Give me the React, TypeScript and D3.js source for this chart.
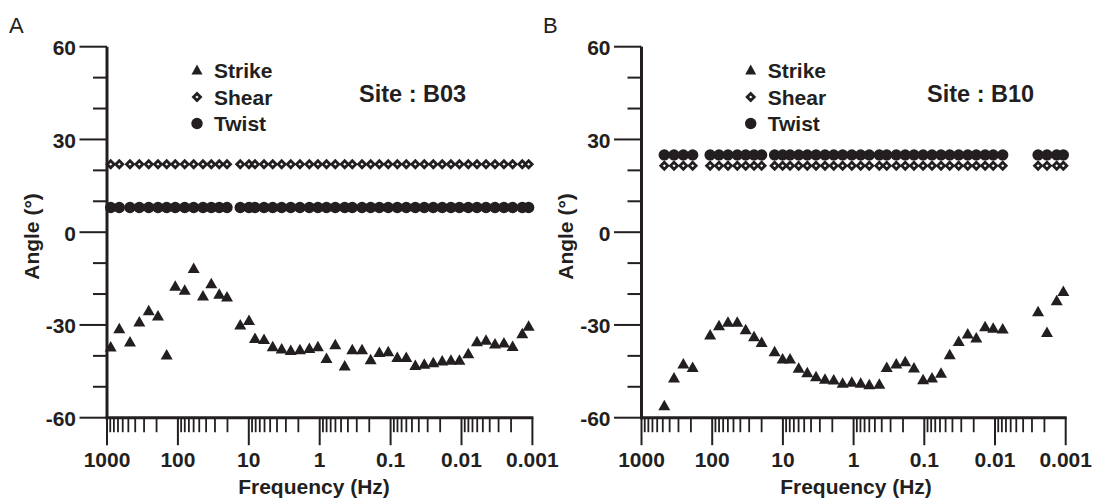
import React from "react";
import * as d3 from "d3";

// ---------- data ----------
const freqA = [887, 671, 474, 350, 258, 191, 144, 109, 80.2, 59.9, 44.3, 33.8, 26.1, 20.3, 13.2, 9.94, 8.18, 6.1, 4.6, 3.44, 2.56, 1.9, 1.4, 1.06, 0.802, 0.603, 0.444, 0.347, 0.253, 0.191, 0.144, 0.108, 0.0804, 0.0601, 0.0448, 0.0335, 0.025, 0.0187, 0.0141, 0.0107, 0.00802, 0.00605, 0.00451, 0.00337, 0.00252, 0.0019, 0.00139, 0.00113];
const strikeA = [-36.9, -31.0, -35.3, -28.8, -25.2, -26.9, -39.5, -17.2, -18.5, -11.5, -20.4, -16.4, -19.8, -20.7, -29.8, -28.3, -34.1, -34.5, -36.8, -37.5, -38.0, -37.8, -37.4, -36.8, -40.6, -36.2, -43.0, -37.8, -37.8, -41.0, -38.7, -38.4, -40.3, -40.3, -42.9, -42.5, -42.0, -41.4, -41.2, -41.2, -39.1, -35.2, -34.7, -35.9, -35.6, -36.7, -32.6, -30.2];
const shearA = [22, 22, 22, 22, 22, 22, 22, 22, 22, 22, 22, 22, 22, 22, 22, 22, 22, 22, 22, 22, 22, 22, 22, 22, 22, 22, 22, 22, 22, 22, 22, 22, 22, 22, 22, 22, 22, 22, 22, 22, 22, 22, 22, 22, 22, 22, 22, 22];
const twistA = [8, 8, 8, 8, 8, 8, 8, 8, 8, 8, 8, 8, 8, 8, 8, 8, 8, 8, 8, 8, 8, 8, 8, 8, 8, 8, 8, 8, 8, 8, 8, 8, 8, 8, 8, 8, 8, 8, 8, 8, 8, 8, 8, 8, 8, 8, 8, 8];

const freqB = [476, 347, 256, 189, 107, 80.1, 59.8, 44.2, 33.6, 25.6, 20.0, 13.1, 10.1, 7.93, 5.98, 4.52, 3.4, 2.54, 1.91, 1.43, 1.06, 0.794, 0.6, 0.433, 0.34, 0.249, 0.186, 0.14, 0.104, 0.0778, 0.058, 0.0437, 0.0326, 0.0243, 0.0184, 0.0138, 0.0106, 0.00778, 0.00246, 0.00184, 0.00134, 0.00108];
const strikeB = [-55.9, -46.9, -42.4, -43.5, -33.0, -30.0, -28.9, -28.9, -31.3, -33.6, -35.4, -38.4, -40.8, -40.8, -43.8, -45.2, -46.5, -47.3, -47.6, -48.6, -48.3, -48.6, -49.1, -48.9, -43.5, -42.4, -41.7, -43.7, -47.5, -46.9, -45.4, -39.4, -35.1, -32.7, -34.0, -30.3, -30.8, -31.1, -25.5, -32.2, -21.9, -18.9];
const shearB = [21.5, 21.5, 21.5, 21.5, 21.5, 21.5, 21.5, 21.5, 21.5, 21.5, 21.5, 21.5, 21.5, 21.5, 21.5, 21.5, 21.5, 21.5, 21.5, 21.5, 21.5, 21.5, 21.5, 21.5, 21.5, 21.5, 21.5, 21.5, 21.5, 21.5, 21.5, 21.5, 21.5, 21.5, 21.5, 21.5, 21.5, 21.5, 21.5, 21.5, 21.5, 21.5];
const twistB = [25, 25, 25, 25, 25, 25, 25, 25, 25, 25, 25, 25, 25, 25, 25, 25, 25, 25, 25, 25, 25, 25, 25, 25, 25, 25, 25, 25, 25, 25, 25, 25, 25, 25, 25, 25, 25, 25, 25, 25, 25, 25];

const xTickValues = [1000, 100, 10, 1, 0.1, 0.01, 0.001];
const xTickLabels = ["1000", "100", "10", "1", "0.1", "0.01", "0.001"];
const yTickValues = [-60, -30, 0, 30, 60];
const yTickLabels = ["-60", "-30", "0", "30", "60"];
const legendLabels = ["Strike", "Shear", "Twist"];

const FONT = "'Liberation Sans', Arial, Helvetica, sans-serif";
const INK = "#231f20";

function tri(cx: number, cy: number, w = 12, h = 10.5) {
  return `M${cx},${cy - h / 2}L${cx + w / 2},${cy + h / 2}L${cx - w / 2},${cy + h / 2}Z`;
}
function dia(cx: number, cy: number, s = 3.5) {
  return `M${cx},${cy - s}L${cx + s},${cy}L${cx},${cy + s}L${cx - s},${cy}Z`;
}

type PanelProps = {
  left: number;
  right: number;
  letter: string;
  letterX: number;
  site: string;
  siteX: number;
  legendX: number;
  titleX: number;
  freq: number[];
  strike: number[];
  shear: number[];
  twist: number[];
};

function Panel(p: PanelProps) {
  const x = d3.scaleLog().domain([1000, 0.001]).range([p.left, p.right]);
  const y = d3.scaleLinear().domain([-60, 60]).range([417.7, 46.7]);
  const bottom = y(-60);

  const minor: number[] = [];
  for (let e = 3; e > -3; e--) {
    for (let m = 9; m >= 2; m--) minor.push(m * Math.pow(10, e - 1));
  }
  const yMinor = d3.range(-60, 61, 10).filter((v) => v % 30 !== 0);

  const legendRows = [78, 104.5, 131];

  return (
    <g>
      <text x={p.letterX} y={33.3} fontFamily={FONT} fontSize={22} fill={INK}>
        {p.letter}
      </text>

      {/* y ticks */}
      {yMinor.map((v) => (
        <line key={"ym" + v} x1={p.left - 14} x2={p.left} y1={y(v)} y2={y(v)} stroke={INK} strokeWidth={2} />
      ))}
      {yTickValues.map((v, i) => (
        <g key={"yt" + v}>
          <line x1={p.left - 27.5} x2={p.left} y1={y(v)} y2={y(v)} stroke={INK} strokeWidth={2} />
          <text x={p.left - 31} y={y(v) + 8.5} textAnchor="end" fontFamily={FONT} fontWeight="bold" fontSize={21} fill={INK}>
            {yTickLabels[i]}
          </text>
        </g>
      ))}

      {/* x ticks */}
      {minor.map((v, i) => (
        <line key={"xm" + i} x1={x(v)} x2={x(v)} y1={bottom} y2={bottom + 14.5} stroke={INK} strokeWidth={1.8} />
      ))}
      {xTickValues.map((v, i) => (
        <g key={"xt" + i}>
          <line x1={x(v)} x2={x(v)} y1={bottom} y2={bottom + 27.5} stroke={INK} strokeWidth={2} />
          <text x={x(v)} y={466.7} textAnchor="middle" fontFamily={FONT} fontWeight="bold" fontSize={21} fill={INK}>
            {xTickLabels[i]}
          </text>
        </g>
      ))}

      {/* axes */}
      <line x1={p.left} x2={p.left} y1={y(60)} y2={bottom + 1.5} stroke={INK} strokeWidth={3} />
      <line x1={p.left - 1.5} x2={p.right + 1} y1={bottom} y2={bottom} stroke={INK} strokeWidth={3} />

      {/* axis titles */}
      <text x={p.titleX} y={494} textAnchor="middle" fontFamily={FONT} fontWeight="bold" fontSize={21} fill={INK}>
        Frequency (Hz)
      </text>
      <text
        transform={`translate(${p.left - 68.5},236.5) rotate(-90)`}
        textAnchor="middle"
        fontFamily={FONT}
        fontWeight="bold"
        fontSize={21}
        fill={INK}
      >
        Angle (°)
      </text>

      {/* data */}
      {p.twist.map((v, i) => (
        <circle key={"tw" + i} cx={x(p.freq[i])} cy={y(v)} r={5.7} fill={INK} />
      ))}
      {p.shear.map((v, i) => (
        <path key={"sh" + i} d={dia(x(p.freq[i]), y(v))} fill="#fff" stroke={INK} strokeWidth={2.8} />
      ))}
      {p.strike.map((v, i) => (
        <path key={"st" + i} d={tri(x(p.freq[i]), y(v))} fill={INK} />
      ))}

      {/* legend */}
      <path d={tri(p.legendX, legendRows[0] - 8.5, 11, 10)} fill={INK} />
      <path d={dia(p.legendX, legendRows[1] - 7.5)} fill="#fff" stroke={INK} strokeWidth={2.8} />
      <circle cx={p.legendX} cy={legendRows[2] - 7.5} r={5.7} fill={INK} />
      {legendLabels.map((t, i) => (
        <text key={t} x={p.legendX + 17} y={legendRows[i]} fontFamily={FONT} fontWeight="bold" fontSize={21} fill={INK}>
          {t}
        </text>
      ))}
      <text x={p.siteX} y={102.3} fontFamily={FONT} fontWeight="bold" fontSize={23.5} fill={INK}>
        {p.site}
      </text>
    </g>
  );
}

export default function App() {
  return (
    <svg
      width={1096}
      height={500}
      viewBox="0 0 1096 500"
      style={{ position: "absolute", left: 0, top: 0, background: "#fff" }}
    >
      <rect width={1096} height={500} fill="#fff" />
      <Panel
        left={107}
        right={532.4}
        letter="A"
        letterX={9}
        site="Site : B03"
        siteX={359}
        legendX={197}
        titleX={314}
        freq={freqA}
        strike={strikeA}
        shear={shearA}
        twist={twistA}
      />
      <Panel
        left={641.5}
        right={1065.7}
        letter="B"
        letterX={543}
        site="Site : B10"
        siteX={927}
        legendX={750.7}
        titleX={856}
        freq={freqB}
        strike={strikeB}
        shear={shearB}
        twist={twistB}
      />
    </svg>
  );
}
